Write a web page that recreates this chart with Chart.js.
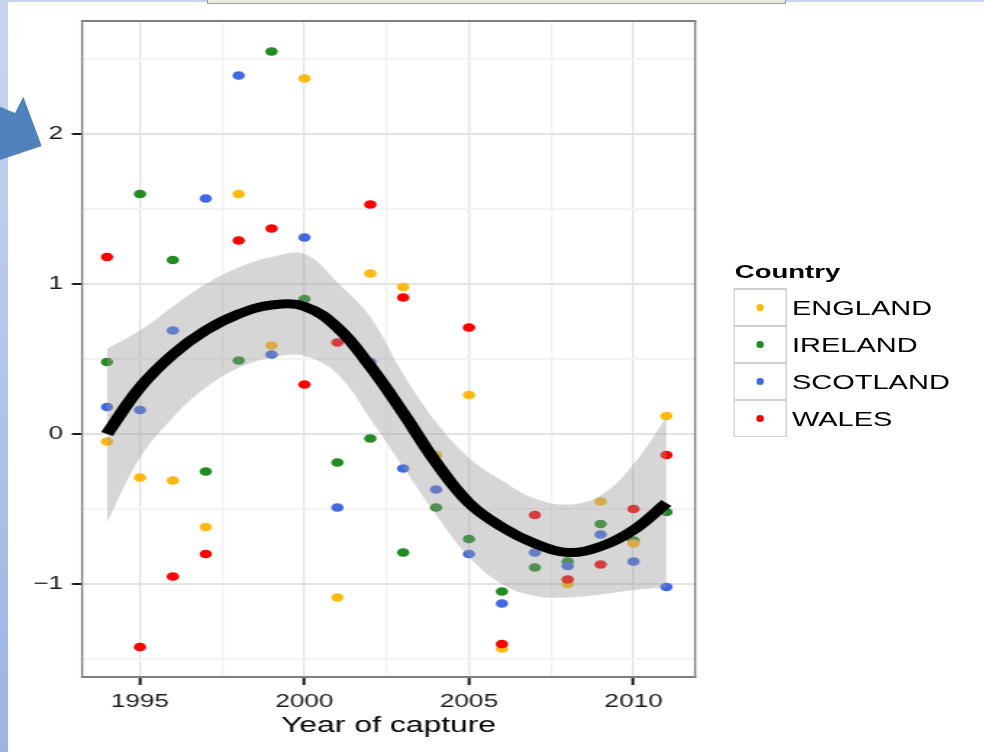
<!DOCTYPE html>
<html>
<head>
<meta charset="utf-8">
<title>Year of capture</title>
<script src="https://cdn.jsdelivr.net/npm/chart.js@4/dist/chart.umd.min.js"></script>
<style>
  html, body { margin: 0; padding: 0; width: 984px; height: 752px; overflow: hidden; background: #fff;
    font-family: "Liberation Sans", Arial, Helvetica, sans-serif; }
  #strip { position: absolute; left: 0; top: 0; width: 8px; height: 752px;
    background: linear-gradient(#c8d6f1, #9cb3e4); z-index: 3; }
  #topbar { position: absolute; left: 0; top: 0; width: 984px; height: 2px; background: #c5d4ee; z-index: 3; }
  #tab { position: absolute; left: 207px; top: 0; width: 577px; height: 3px; background: #ece9d8;
    border: 1px solid #9c9c9c; border-top: none; z-index: 4; }
  #arrow { position: absolute; left: 0; top: 0; z-index: 5; }
  /* the figure is drawn narrow and widened as a whole */
  #stage { position: absolute; left: 0; top: 0; width: 679px; height: 752px;
    transform: scaleX(1.4492); transform-origin: 0 0; }
  #chart { position: absolute; left: 0; top: 0; }
  #legend-title { position: absolute; left: 507px; top: 261px; font-weight: bold; font-size: 19px;
    line-height: 22px; color: #000; white-space: nowrap; }
  #legend-keys { position: absolute; left: 505.8px; top: 288px; width: 37.3px; height: 149px; background: #cfcfcf; }
  .key { position: absolute; left: 1.4px; width: 34.5px; height: 35px; background: #fff; }
  .dot { position: absolute; left: 50%; top: 50%; width: 5.5px; height: 6.5px; margin-left: -2.75px;
    margin-top: -3.25px; border-radius: 50%; }
  .lab { position: absolute; left: 546.5px; font-size: 20px; line-height: 24px; color: #000; white-space: nowrap; }
</style>
</head>
<body>
<div id="stage">
  <canvas id="chart" width="679" height="752"></canvas>
  <div id="legend-title">Country</div>
  <div id="legend-keys"></div>
</div>
<div id="strip"></div>
<div id="topbar"></div>
<div id="tab"></div>
<svg id="arrow" width="50" height="170"><polygon points="0,106.7 15,113 23.3,96.7 41.7,146 0,160" fill="#4f81bd"/></svg>
<script>
// Capture years and per-country index values
const years = [1994, 1995, 1996, 1997, 1998, 1999, 2000, 2001, 2002, 2003, 2004, 2005, 2006, 2007, 2008, 2009, 2010, 2011];
const england  = [-0.05, -0.29, -0.31, -0.62, 1.60, 0.59, 2.37, -1.09, 1.07, 0.98, -0.14, 0.26, -1.43, -0.73, -1.00, -0.45, -0.73, 0.12];
const ireland  = [0.48, 1.60, 1.16, -0.25, 0.49, 2.55, 0.90, -0.19, -0.03, -0.79, -0.49, -0.70, -1.05, -0.89, -0.85, -0.60, -0.71, -0.52];
const scotland = [0.18, 0.16, 0.69, 1.57, 2.39, 0.53, 1.31, -0.49, 0.48, -0.23, -0.37, -0.80, -1.13, -0.79, -0.88, -0.67, -0.85, -1.02];
const wales    = [1.18, -1.42, -0.95, -0.80, 1.29, 1.37, 0.33, 0.61, 1.53, 0.91, -0.19, 0.71, -1.40, -0.54, -0.97, -0.87, -0.50, -0.14];

// Smoothed trend with its confidence band
const smoothFit   = [0.00, 0.31, 0.53, 0.69, 0.80, 0.86, 0.85, 0.71, 0.45, 0.14, -0.19, -0.46, -0.62, -0.73, -0.79, -0.75, -0.64, -0.46];
const smoothUpper = [0.57, 0.69, 0.85, 1.00, 1.11, 1.18, 1.20, 1.01, 0.78, 0.40, 0.08, -0.16, -0.31, -0.43, -0.47, -0.41, -0.20, 0.11];
const smoothLower = [-0.59, -0.16, 0.11, 0.31, 0.44, 0.51, 0.52, 0.40, 0.10, -0.22, -0.54, -0.82, -1.00, -1.08, -1.09, -1.07, -1.04, -1.02];

const countries = ['ENGLAND', 'IRELAND', 'SCOTLAND', 'WALES'];
const countrySeries = [england, ireland, scotland, wales];
const countryColors = ['#ffb90f', '#228b22', '#4169e1', '#ff0000'];
const countryDrawOrder = [5, 6, 4, 3];

// Axis breaks: labelled major lines and unlabelled minor lines
const xMajor = [1995, 2000, 2005, 2010];
const xMinor = [1997.5, 2002.5, 2007.5];
const yMajor = [-1, 0, 1, 2];
const yMinor = [-1.5, -0.5, 0.5, 1.5, 2.5];

const FONT = '"Liberation Sans", Arial, Helvetica, sans-serif';
Chart.defaults.font.family = FONT;
Chart.defaults.color = '#1a1a1a';

const toPoints = vals => years.map((x, i) => ({ x: x, y: vals[i] }));
const isMajor = (list, v) => list.some(m => Math.abs(m - v) < 1e-6);
const sortedTicks = (a, b) => a.concat(b).sort((p, q) => p - q).map(v => ({ value: v }));

// Grey frame round the plotting panel
const panelBorder = {
  id: 'panelBorder',
  afterDraw(chart) {
    const { ctx, chartArea: a } = chart;
    ctx.save();
    ctx.fillStyle = '#7f7f7f';
    ctx.fillRect(a.left - 0.7, a.top - 1, a.right - a.left + 1.4, 2);
    ctx.fillRect(a.left - 0.7, a.bottom - 1, a.right - a.left + 1.4, 2);
    ctx.fillRect(a.left - 0.7, a.top - 1, 1.4, a.bottom - a.top + 2);
    ctx.fillRect(a.right - 0.7, a.top - 1, 1.4, a.bottom - a.top + 2);
    ctx.restore();
  }
};

const datasets = [
  { label: 'fit', type: 'line', data: toPoints(smoothFit), borderColor: '#000000', borderWidth: 9,
    pointRadius: 0, tension: 0.4, fill: false, order: 0 },
  { label: 'upper', type: 'line', data: toPoints(smoothUpper), borderWidth: 0, borderColor: 'rgba(0,0,0,0)',
    backgroundColor: 'rgba(153,153,153,0.4)', pointRadius: 0, tension: 0.4, fill: '+1', order: 1 },
  { label: 'lower', type: 'line', data: toPoints(smoothLower), borderWidth: 0, borderColor: 'rgba(0,0,0,0)',
    pointRadius: 0, tension: 0.4, fill: false, order: 2 }
];
countries.forEach((name, k) => {
  datasets.push({
    label: name, data: toPoints(countrySeries[k]), backgroundColor: countryColors[k],
    borderColor: countryColors[k], borderWidth: 0, pointRadius: 4.3, pointHoverRadius: 4.3,
    order: countryDrawOrder[k]
  });
});

new Chart(document.getElementById('chart'), {
  type: 'scatter',
  data: { datasets: datasets },
  plugins: [panelBorder],
  options: {
    responsive: false,
    animation: false,
    devicePixelRatio: 1,
    layout: { padding: { left: 0, top: 21, right: 199.4, bottom: 0 } },
    plugins: { legend: { display: false }, tooltip: { enabled: false } },
    scales: {
      x: {
        type: 'linear', min: 1993.24, max: 2011.87,
        afterBuildTicks: s => { s.ticks = sortedTicks(xMajor, xMinor); },
        afterFit: s => { s.height = 75; },
        border: { display: false },
        grid: {
          color: c => isMajor(xMajor, c.tick.value) ? '#e3e3e3' : '#f3f3f3',
          lineWidth: 1.4, drawTicks: true, tickLength: 8, tickWidth: 2,
          tickColor: c => isMajor(xMajor, c.tick.value) ? '#1a1a1a' : 'rgba(0,0,0,0)'
        },
        ticks: {
          autoSkip: false, maxRotation: 0, padding: 6, color: '#1a1a1a', font: { size: 18 },
          callback: v => isMajor(xMajor, v) ? String(v) : ''
        },
        title: { display: true, text: 'Year of capture', color: '#000', font: { size: 22 },
          padding: { top: 0, bottom: 13 } }
      },
      y: {
        type: 'linear', min: -1.62, max: 2.753,
        afterBuildTicks: s => { s.ticks = sortedTicks(yMajor, yMinor); },
        afterFit: s => { s.width = 56.6; },
        border: { display: false },
        grid: {
          color: c => isMajor(yMajor, c.tick.value) ? '#e3e3e3' : '#f3f3f3',
          lineWidth: 2, drawTicks: true, tickLength: 7, tickWidth: 2,
          tickColor: c => isMajor(yMajor, c.tick.value) ? '#1a1a1a' : 'rgba(0,0,0,0)'
        },
        ticks: {
          autoSkip: false, padding: 6, color: '#1a1a1a', font: { size: 18 },
          callback: v => isMajor(yMajor, v) ? (v < 0 ? '\u2212' + Math.abs(v) : String(v)) : ''
        }
      }
    }
  }
});

// Legend keys for the country colours
const keys = document.getElementById('legend-keys');
const stage = document.getElementById('stage');
countries.forEach((name, k) => {
  const key = document.createElement('div');
  key.className = 'key';
  key.style.top = (2 + k * 37) + 'px';
  const dot = document.createElement('span');
  dot.className = 'dot';
  dot.style.background = countryColors[k];
  key.appendChild(dot);
  keys.appendChild(key);
  const lab = document.createElement('div');
  lab.className = 'lab';
  lab.textContent = name;
  lab.style.top = (288 + 2 + k * 37 + 17.5 - 12) + 'px';
  stage.appendChild(lab);
});
</script>
</body>
</html>
